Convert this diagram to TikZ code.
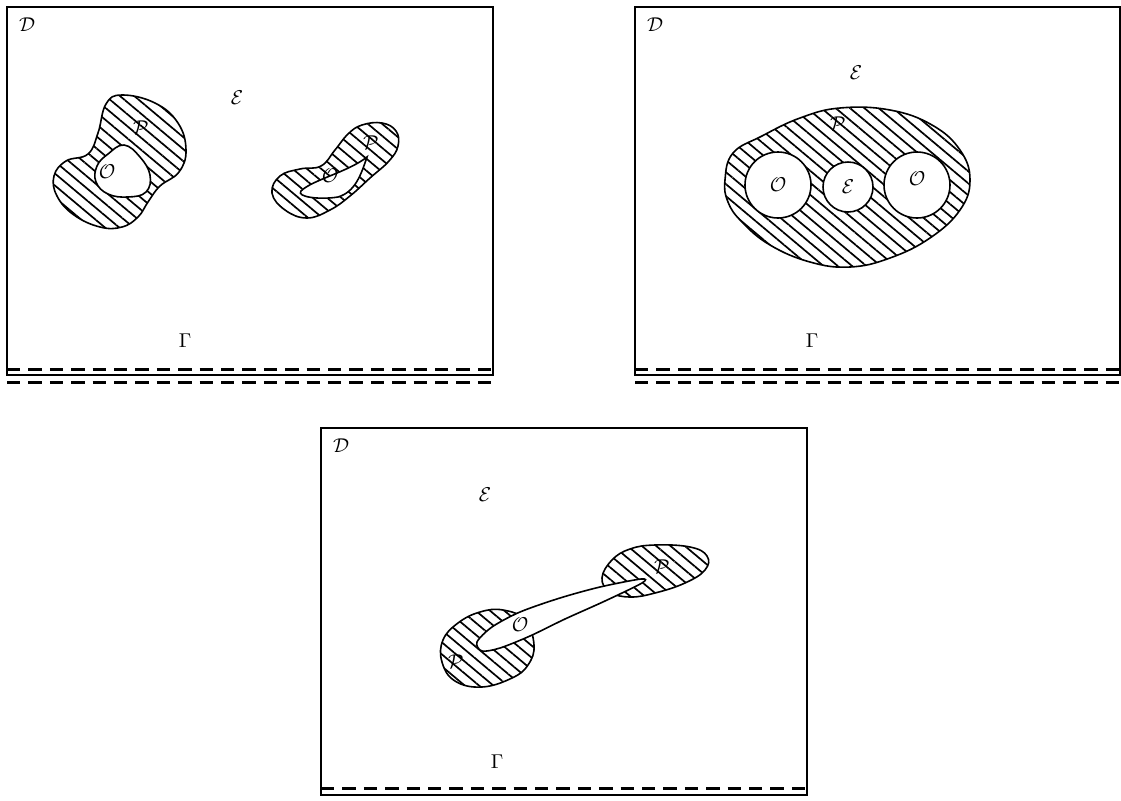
\documentclass[tikz,border=0pt]{standalone}
\usetikzlibrary{patterns.meta}
\begin{document}
\begin{tikzpicture}[x=0.5pt,y=-0.5pt,
  frame/.style={draw,line width=0.65pt},
  dashline/.style={line width=1.5pt,dash pattern=on 6.7pt off 4pt},
  hatched/.style={draw,line width=0.8pt,pattern={Lines[angle=-40,distance=4.6pt,line width=0.85pt]}},
  hole/.style={draw,line width=0.8pt,fill=white},
  lab/.style={inner sep=0pt}]
\useasboundingbox (0,0) rectangle (1121,800);

% ---------- panel 1 ----------
\draw[frame] (7,7) rectangle (493,375);
\coordinate (a1l) at (7,369);  \coordinate (a1r) at (493,369);
\coordinate (b1l) at (7,382);  \coordinate (b1r) at (493,382);
\draw[dashline] (a1l) -- (a1r);
\draw[dashline] (b1l) -- (b1r);
\node[lab] (D1) at (27,25) {$\mathcal{D}$};
\node[lab] (E1) at (237,98) {$\mathcal{E}$};
\node[lab] (G1) at (185,341) {$\Gamma$};

\path[hatched] plot[smooth cycle,tension=0.7] coordinates {
 (122,95) (155,103) (178,123) (186,150) (179,172) (160,186) (148,202) (138,217)
 (122,227) (100,227) (74,215) (57,196) (54,176) (66,161) (88,154) (98,133) (106,104)};
\path[hole] plot[smooth cycle,tension=0.7] coordinates {
 (124,145) (140,157) (150,175) (146,192) (128,197) (108,194) (96,182) (97,166) (108,154)};
\node[lab] (P1) at (141,128) {$\mathcal{P}$};
\node[lab] (O1) at (107,172) {$\mathcal{O}$};

\path[hatched] plot[smooth cycle,tension=0.7] coordinates {
 (362,125) (382,123) (396,131) (398,146) (389,161) (370,178) (350,196) (330,210)
 (307,218) (285,210) (272,193) (280,176) (300,169) (321,166) (335,150) (348,134)};
\path[hole] (367,157) .. controls (348,172) and (312,180) .. (301,191)
  .. controls (296,197) and (320,200) .. (338,197)
  .. controls (355,192) and (361,175) .. cycle;
\node[lab] (P2) at (371,143) {$\mathcal{P}$};
\node[lab] (O2) at (330,176) {$\mathcal{O}$};

% ---------- panel 2 ----------
\draw[frame] (635,7) rectangle (1120,375);
\coordinate (a2l) at (635,369);  \coordinate (a2r) at (1120,369);
\coordinate (b2l) at (635,382);  \coordinate (b2r) at (1120,382);
\draw[dashline] (a2l) -- (a2r);
\draw[dashline] (b2l) -- (b2r);
\node[lab] (D2) at (655,25) {$\mathcal{D}$};
\node[lab] (E2) at (856,73) {$\mathcal{E}$};
\node[lab] (G2) at (812,341) {$\Gamma$};

\path[hatched] plot[smooth cycle,tension=0.7] coordinates {
 (725,180) (733,153) (762,136) (800,118) (840,108) (890,110) (932,125) (960,150)
 (970,180) (960,210) (930,238) (890,258) (850,267) (810,262) (770,245) (742,222) (728,202)};
\node[hole,circle,minimum size=66pt*0.5,inner sep=0pt] (O3) at (778,185) {};
\node[hole,circle,minimum size=50pt*0.5,inner sep=0pt] (E3) at (848,187) {};
\node[hole,circle,minimum size=66pt*0.5,inner sep=0pt] (O4) at (917,185) {};
\node[lab] at (O3) {$\mathcal{O}$};
\node[lab] at (E3) {$\mathcal{E}$};
\node[lab] at ([yshift=3pt]O4.center) {$\mathcal{O}$};
\node[lab] (P3) at (838,124) {$\mathcal{P}$};

% ---------- panel 3 ----------
\draw[frame] (321,428) rectangle (807,795);
\coordinate (a3l) at (321,788);  \coordinate (a3r) at (807,788);
\draw[dashline] (a3l) -- (a3r);
\node[lab] (D3) at (341,446) {$\mathcal{D}$};
\node[lab] (E3b) at (485,495) {$\mathcal{E}$};
\node[lab] (G3) at (497,762) {$\Gamma$};

\path[hatched] plot[smooth cycle,tension=0.7] coordinates {
 (503,610) (525,620) (534,645) (528,665) (512,678) (482,687) (455,681) (442,662)
 (443,640) (458,623) (480,612)};
\path[hatched] plot[smooth cycle,tension=0.7] coordinates {
 (655,545) (690,547) (707,556) (705,570) (685,583) (655,593) (630,597) (610,592)
 (602,578) (612,560) (630,549)};
\path[hole] plot[smooth cycle,tension=0.5] coordinates {
 (641,579) (600,587) (560,598) (520,612) (492,627) (477,642) (482,651) (500,648)
 (530,636) (565,619) (605,601) (642,583)};
\node[lab] (O5) at (520,625) {$\mathcal{O}$};
\node[lab] (P4) at (456,662) {$\mathcal{P}$};
\node[lab] (P5) at (662,567) {$\mathcal{P}$};
\end{tikzpicture}
\end{document}
